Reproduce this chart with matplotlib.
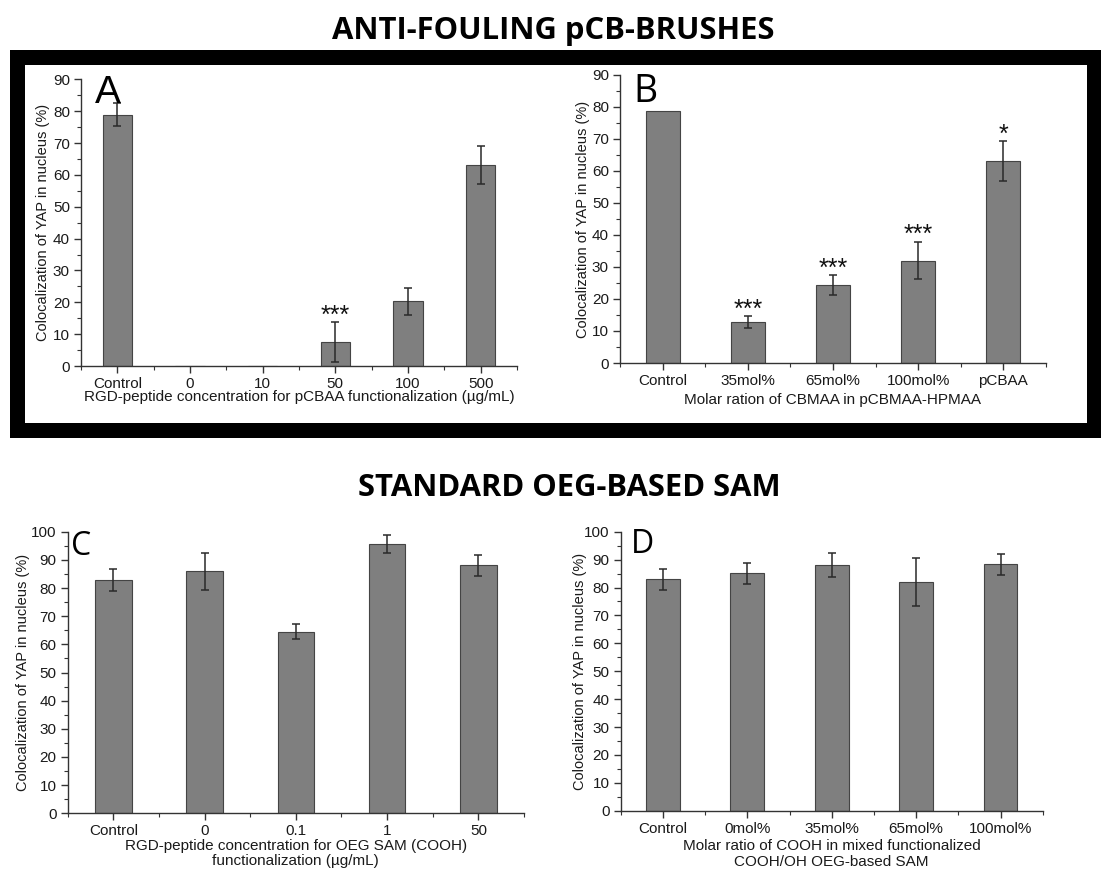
import numpy as np
import matplotlib
matplotlib.use('Agg')
import matplotlib.pyplot as plt
from matplotlib.patches import Rectangle
from matplotlib.ticker import MultipleLocator

plt.rcParams['font.family'] = 'Liberation Sans'

# panel A - RGD on pCBAA
A_cats = ['Control', '0', '10', '50', '100', '500']
A_vals = [78.9, 0, 0, 7.5, 20.3, 63.1]
A_err = [3.6, 0, 0, 6.2, 4.3, 6.0]
A_sig = ['', '', '', '***', '', '']

# panel B - CBMAA ratio
B_cats = ['Control', '35mol%', '65mol%', '100mol%', 'pCBAA']
B_vals = [78.9, 12.7, 24.3, 32.0, 63.2]
B_err = [0, 1.9, 3.1, 5.9, 6.2]
B_sig = ['', '***', '***', '***', '*']

# panel C - RGD on OEG SAM
C_cats = ['Control', '0', '0.1', '1', '50']
C_vals = [82.8, 85.9, 64.5, 95.6, 88.1]
C_err = [3.9, 6.6, 2.7, 3.2, 3.7]

# panel D - COOH ratio
D_cats = ['Control', '0mol%', '35mol%', '65mol%', '100mol%']
D_vals = [82.9, 85.1, 88.0, 81.9, 88.3]
D_err = [3.9, 3.8, 4.2, 8.6, 3.8]

W, H = 1108, 871
fig = plt.figure(figsize=(W / 100, H / 100), dpi=100)

def px(x0, y0, x1, y1):
    # pixel box -> figure fraction [left, bottom, width, height]
    return [x0 / W, 1 - y1 / H, (x1 - x0) / W, (y1 - y0) / H]

# black frame round the top row
fig.add_artist(Rectangle((10 / W, 1 - 438 / H), 1091 / W, 388 / H,
                         transform=fig.transFigure, facecolor='black', edgecolor='none', zorder=0))
fig.add_artist(Rectangle((25 / W, 1 - 423 / H), 1062 / W, 358 / H,
                         transform=fig.transFigure, facecolor='white', edgecolor='none', zorder=0))

fig.text(553 / W, 1 - 31 / H, 'ANTI-FOULING pCB-BRUSHES', family='Open Sans',
         fontweight='bold', fontsize=22.3, ha='center', va='center')
fig.text(569 / W, 1 - 488 / H, 'STANDARD OEG-BASED SAM', family='Open Sans',
         fontweight='bold', fontsize=22.3, ha='center', va='center')

FS = 11

def panel(box, cats, vals, errs, ymax, xlabel, letter, lpos, lsize, lfont,
          ylab_x, xlab_y, sig=None):
    ax = fig.add_axes(px(*box))
    ax.patch.set_alpha(0)
    x = np.arange(len(cats))
    ax.bar(x, vals, width=0.4, color='#7f7f7f', edgecolor='#444444', linewidth=0.8, zorder=2)
    e = np.array(errs, dtype=float)
    m = e > 0
    ax.errorbar(x[m], np.array(vals)[m], yerr=e[m], fmt='none', ecolor='#2a2a2a',
                elinewidth=1.1, capsize=3, capthick=1.1, zorder=3)
    if sig:
        for xi, v, er, s in zip(x, vals, errs, sig):
            if s:
                ax.annotate(s, xy=(xi, v + er), xytext=(0, -4), textcoords='offset points',
                            ha='center', va='bottom', fontsize=18, color='#111111')
    ax.set_xlim(-0.5, len(cats) - 0.5)
    ax.set_ylim(0, ymax)
    ax.set_xticks(x)
    ax.set_xticklabels(cats)
    ax.xaxis.set_minor_locator(MultipleLocator(0.5))
    ax.yaxis.set_major_locator(MultipleLocator(10))
    ax.yaxis.set_minor_locator(MultipleLocator(5))
    for s in ['top', 'right']:
        ax.spines[s].set_visible(False)
    for s in ['left', 'bottom']:
        ax.spines[s].set_linewidth(1.0)
        ax.spines[s].set_color('#333333')
    ax.tick_params(which='major', direction='out', length=5, width=1, colors='#333333',
                   labelsize=FS, labelcolor='#1a1a1a', pad=3)
    ax.tick_params(which='minor', direction='out', length=3, width=0.8, colors='#333333')
    ax.set_ylabel('Colocalization of YAP in nucleus (%)', fontsize=FS - 0.5, color='#1a1a1a')
    ax.set_xlabel(xlabel, fontsize=FS, color='#1a1a1a', linespacing=1.15)
    ax.yaxis.set_label_coords(ylab_x, 0.5)
    ax.xaxis.set_label_coords(0.5, xlab_y)
    fig.text(lpos[0] / W, 1 - lpos[1] / H, letter, fontsize=lsize, family=lfont,
             ha='left', va='baseline')
    return ax

panel((81, 79.3, 517, 366), A_cats, A_vals, A_err, 90,
      'RGD-peptide concentration for pCBAA functionalization (µg/mL)',
      'A', (95, 103), 28, 'Liberation Sans', -0.072, -0.084, A_sig)
panel((620, 75, 1046, 363), B_cats, B_vals, B_err, 90,
      'Molar ration of CBMAA in pCBMAA-HPMAA',
      'B', (633, 101.5), 27, 'Open Sans', -0.071, -0.104, B_sig)
panel((67.7, 531.7, 524, 813.3), C_cats, C_vals, C_err, 100,
      'RGD-peptide concentration for OEG SAM (COOH)\nfunctionalization (µg/mL)',
      'C', (71, 555), 23, 'Open Sans', -0.083, -0.090)
panel((620.7, 531.7, 1042.7, 810.7), D_cats, D_vals, D_err, 100,
      'Molar ratio of COOH in mixed functionalized\nCOOH/OH OEG-based SAM',
      'D', (631, 553), 23, 'Open Sans', -0.080, -0.102)

fig.savefig('out.png', dpi=100)
